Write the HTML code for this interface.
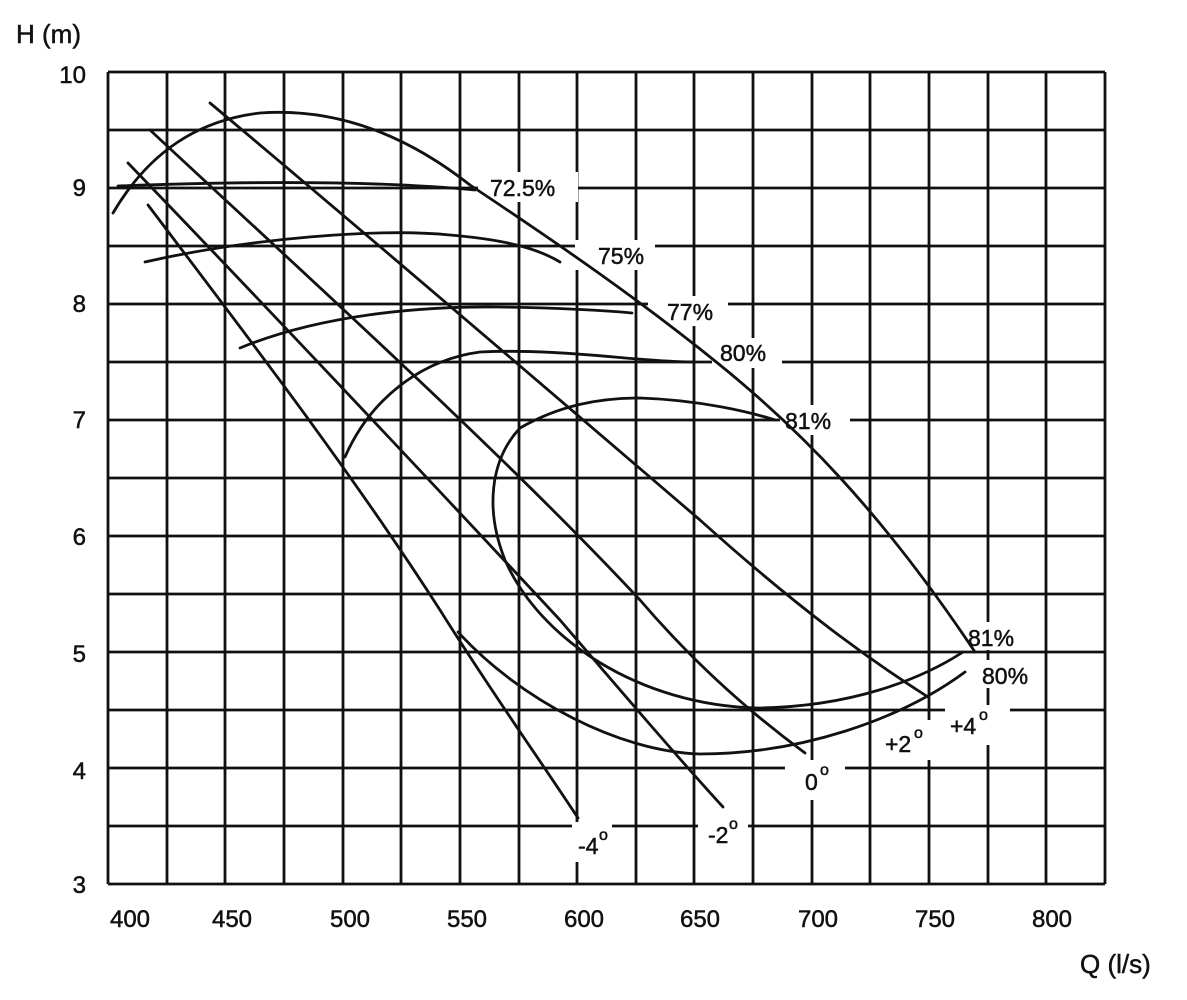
<!DOCTYPE html>
<html><head><meta charset="utf-8"><style>
html,body{margin:0;padding:0;background:#fff;}
svg{display:block;}
text{font-family:"Liberation Sans",Arial,sans-serif;fill:#111;stroke:#111;stroke-width:0.5;}
</style></head><body>
<svg width="1187" height="1000" viewBox="0 0 1187 1000" xmlns="http://www.w3.org/2000/svg">
<rect width="1187" height="1000" fill="#fff"/>
<g stroke="#111" stroke-width="2.8" fill="none">
<path d="M108 72V884M167 72V884M225 72V884M284 72V884M343 72V884M401 72V884M460 72V884M519 72V884M577 72V884M636 72V884M694 72V884M753 72V884M812 72V884M870 72V884M929 72V884M988 72V884M1046 72V884M1105 72V884"/>
<path d="M108 72H1105M108 130H1105M108 188H1105M108 246H1105M108 304H1105M108 362H1105M108 420H1105M108 478H1105M108 536H1105M108 594H1105M108 652H1105M108 710H1105M108 768H1105M108 826H1105M108 884H1105"/>
</g>
<g fill="#fff">
<rect x="478" y="172" width="100" height="30"/>
<rect x="575" y="240" width="80" height="30"/>
<rect x="648" y="296" width="80" height="30"/>
<rect x="712" y="338" width="70" height="30"/>
<rect x="780" y="405" width="70" height="30"/>
<rect x="965" y="622" width="70" height="28"/>
<rect x="968" y="660" width="72" height="28"/>
<rect x="880" y="720" width="60" height="40"/>
<rect x="945" y="705" width="65" height="40"/>
<rect x="785" y="760" width="60" height="40"/>
<rect x="572" y="822" width="40" height="40"/>
<rect x="698" y="818" width="50" height="40"/>
</g>
<g stroke="#111" stroke-width="2.8" fill="none" stroke-linecap="round">
<path d="M113 213 C150 150 200 120 260 113 C330 108 400 130 470 185 C560 245 640 300 720 365 C800 430 880 510 975 652"/>
<path d="M148 205 C250 340 350 470 440 610 C490 690 540 760 578 818"/>
<path d="M128 163 C260 300 420 470 560 620 C620 690 680 760 723 807"/>
<path d="M150 130 C300 270 500 450 640 600 C700 670 760 720 805 753"/>
<path d="M210 103 C350 220 560 400 700 520 C800 610 870 660 928 697"/>
<path d="M118 186 C250 181 380 181 475 190"/>
<path d="M145 262 C250 238 380 228 450 235 C510 240 540 250 560 262"/>
<path d="M240 348 C320 315 420 306 500 307 C560 308 600 310 632 313"/>
<path d="M345 457 C370 400 420 360 480 352 C560 348 640 362 692 362"/>
<path d="M520 428 C560 405 600 398 640 398 C700 400 750 412 775 420"/>
<path d="M520 428 C490 460 485 510 505 560 C540 640 640 705 757 708 C850 707 920 680 963 652"/>
<path d="M458 632 C520 700 620 752 700 754 C800 754 900 720 965 672"/>
</g>
<g font-size="23">
<text x="490" y="196">72.5%</text>
<text x="598" y="264">75%</text>
<text x="667" y="320">77%</text>
<text x="720" y="361">80%</text>
<text x="785" y="429">81%</text>
<text x="968" y="646">81%</text>
<text x="982" y="684">80%</text>
<text x="885" y="752">+2</text><text x="914" y="738" font-size="16">o</text>
<text x="950" y="734">+4</text><text x="979" y="720" font-size="16">o</text>
<text x="805" y="790">0</text><text x="820" y="775" font-size="16">o</text>
<text x="578" y="854">-4</text><text x="599" y="840" font-size="16">o</text>
<text x="708" y="843">-2</text><text x="729" y="829" font-size="16">o</text>
</g>
<g font-size="24" text-anchor="end">
<text x="86" y="83">10</text>
<text x="86" y="196">9</text>
<text x="86" y="312">8</text>
<text x="86" y="428">7</text>
<text x="86" y="545">6</text>
<text x="86" y="662">5</text>
<text x="86" y="779">4</text>
<text x="86" y="893">3</text>
</g>
<g font-size="24" text-anchor="middle">
<text x="130" y="927">400</text>
<text x="232" y="927">450</text>
<text x="350" y="927">500</text>
<text x="467" y="927">550</text>
<text x="584" y="927">600</text>
<text x="700" y="927">650</text>
<text x="818" y="927">700</text>
<text x="935" y="927">750</text>
<text x="1052" y="927">800</text>
</g>
<text x="16" y="43" font-size="26">H (m)</text>
<text x="1080" y="973" font-size="26">Q (l/s)</text>
</svg>
</body></html>
